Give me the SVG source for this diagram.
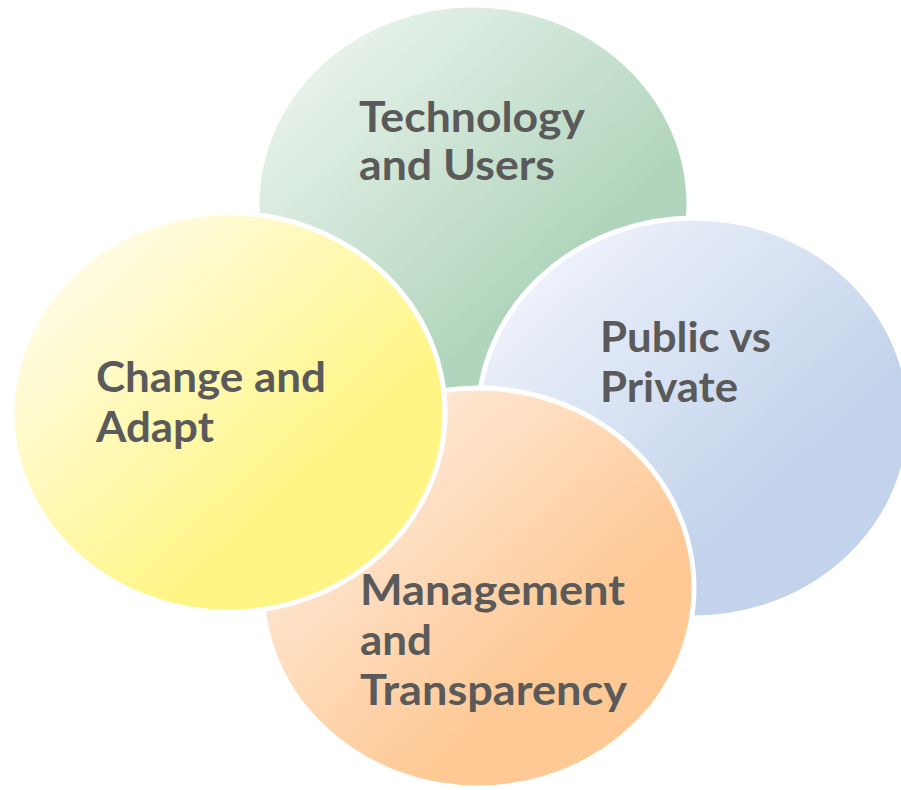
<svg xmlns="http://www.w3.org/2000/svg" width="901" height="790" viewBox="0 0 901 790">
<defs>
<linearGradient id="gGreen" x1="0.05" y1="0.1" x2="0.65" y2="0.7">
<stop offset="0" stop-color="#eef5f0"/><stop offset="1" stop-color="#b1d5bc"/>
</linearGradient>
<linearGradient id="gBlue" x1="0.05" y1="0.1" x2="0.65" y2="0.7">
<stop offset="0" stop-color="#f2f5fc"/><stop offset="1" stop-color="#c3d3eb"/>
</linearGradient>
<linearGradient id="gOrange" x1="0.05" y1="0.1" x2="0.65" y2="0.7">
<stop offset="0" stop-color="#fff0e6"/><stop offset="1" stop-color="#fec995"/>
</linearGradient>
<linearGradient id="gYellow" x1="0.05" y1="0.1" x2="0.65" y2="0.7">
<stop offset="0" stop-color="#fffdf0"/><stop offset="1" stop-color="#fff585"/>
</linearGradient>
</defs>
<style>
.c{stroke:#ffffff;stroke-width:5}
.t{font-family:Lato,"Open Sans","Liberation Sans",sans-serif;font-weight:bold;font-size:42px;fill:#5a5a5a}
</style>
<g id="connectors"/>
<g id="node-technology">
<ellipse class="c" cx="473" cy="205" rx="216" ry="200" fill="url(#gGreen)"/>
<text class="t" x="359" y="132" textLength="226" lengthAdjust="spacingAndGlyphs">Technology</text>
<text class="t" x="359" y="180" textLength="196" lengthAdjust="spacingAndGlyphs">and Users</text>
</g>
<g id="node-public">
<ellipse class="c" cx="694" cy="418" rx="216" ry="200" fill="url(#gBlue)"/>
<text class="t" x="600" y="352" textLength="171" lengthAdjust="spacingAndGlyphs">Public vs</text>
<text class="t" x="600" y="402" textLength="138" lengthAdjust="spacingAndGlyphs">Private</text>
</g>
<g id="node-management">
<ellipse class="c" cx="478" cy="588" rx="216" ry="200" fill="url(#gOrange)"/>
<text class="t" x="360" y="605" textLength="265" lengthAdjust="spacingAndGlyphs">Management</text>
<text class="t" x="360" y="655" textLength="72" lengthAdjust="spacingAndGlyphs">and</text>
<text class="t" x="360" y="705" textLength="267" lengthAdjust="spacingAndGlyphs">Transparency</text>
</g>
<g id="node-change">
<ellipse class="c" cx="228.5" cy="412.5" rx="216.5" ry="199.5" fill="url(#gYellow)"/>
<text class="t" x="96" y="392" textLength="230" lengthAdjust="spacingAndGlyphs">Change and</text>
<text class="t" x="96" y="442" textLength="118" lengthAdjust="spacingAndGlyphs">Adapt</text>
</g>
</svg>
